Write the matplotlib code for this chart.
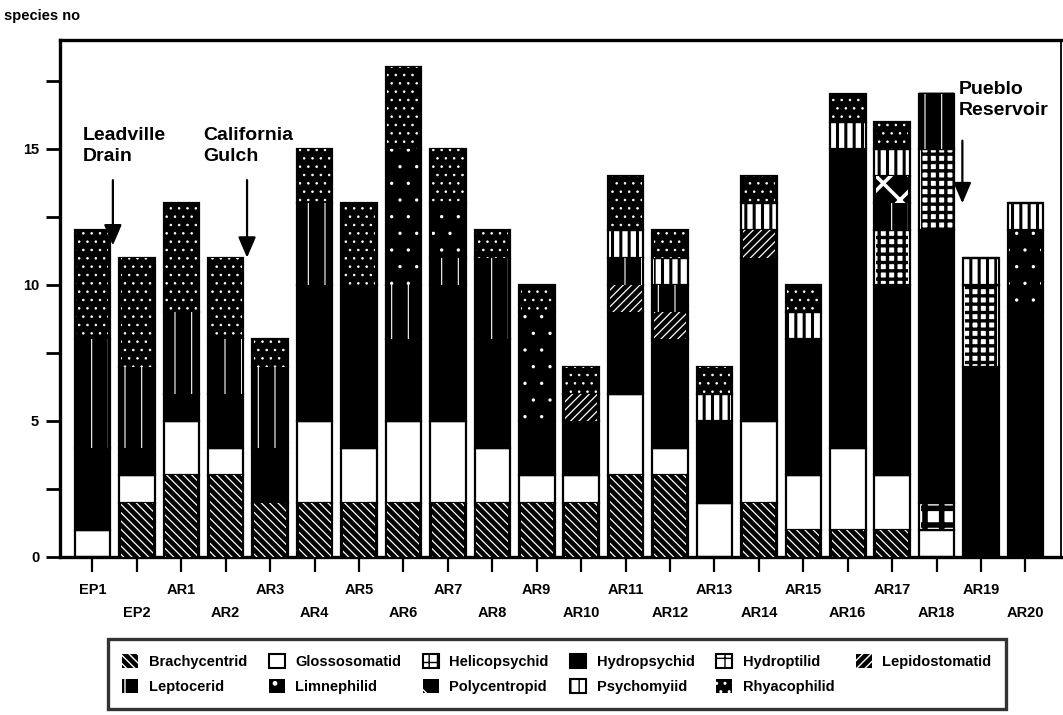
import matplotlib
matplotlib.use("Agg")
import matplotlib.pyplot as plt
from matplotlib.patches import Patch

plt.rcParams["font.family"] = ["Liberation Sans", "DejaVu Sans"]
plt.rcParams["font.weight"] = "bold"

# sampling sites, upstream to downstream
sites = ["EP1", "EP2", "AR1", "AR2", "AR3", "AR4", "AR5", "AR6", "AR7", "AR8", "AR9",
         "AR10", "AR11", "AR12", "AR13", "AR14", "AR15", "AR16", "AR17", "AR18", "AR19", "AR20"]

# number of caddisfly species per family at each site
brachycentrid  = [0, 2, 3, 3, 2, 2, 2, 2, 2, 2, 2, 2, 3, 3, 0, 2, 1, 1, 1, 0, 0, 0]
glossosomatid  = [1, 1, 2, 1, 0, 3, 2, 3, 3, 2, 1, 1, 3, 1, 2, 3, 2, 3, 2, 1, 0, 0]
helicopsychid  = [0, 0, 0, 0, 0, 0, 0, 0, 0, 0, 0, 0, 0, 0, 0, 0, 0, 0, 2, 3, 3, 0]
hydropsychid   = [3, 1, 1, 2, 2, 5, 6, 3, 5, 4, 2, 2, 3, 4, 3, 6, 5, 11, 7, 10, 7, 9]
hydroptilid    = [0, 0, 0, 0, 0, 0, 0, 0, 0, 0, 0, 0, 0, 0, 0, 0, 0, 0, 0, 1, 0, 0]
lepidostomatid = [0, 0, 0, 0, 0, 0, 0, 0, 0, 0, 0, 1, 1, 1, 0, 1, 0, 0, 0, 0, 0, 0]
leptocerid     = [4, 3, 3, 2, 3, 3, 0, 2, 1, 3, 0, 0, 1, 1, 0, 0, 0, 0, 1, 2, 0, 0]
limnephilid    = [0, 0, 0, 0, 0, 0, 0, 5, 2, 0, 4, 0, 0, 0, 0, 0, 0, 0, 0, 0, 0, 3]
polycentropid  = [0, 0, 0, 0, 0, 0, 0, 0, 0, 0, 0, 0, 0, 0, 0, 0, 0, 0, 1, 0, 0, 0]
psychomyiid    = [0, 0, 0, 0, 0, 0, 0, 0, 0, 0, 0, 0, 1, 1, 1, 1, 1, 1, 1, 0, 1, 1]
rhyacophilid   = [4, 4, 4, 3, 1, 2, 3, 3, 2, 1, 1, 1, 2, 1, 1, 1, 1, 1, 1, 0, 0, 0]

family_names = ["Brachycentrid", "Glossosomatid", "Helicopsychid", "Hydropsychid",
                "Hydroptilid", "Lepidostomatid", "Leptocerid", "Limnephilid",
                "Polycentropid", "Psychomyiid", "Rhyacophilid"]

counts = {
    "Brachycentrid": brachycentrid, "Glossosomatid": glossosomatid,
    "Helicopsychid": helicopsychid, "Hydropsychid": hydropsychid,
    "Hydroptilid": hydroptilid, "Lepidostomatid": lepidostomatid,
    "Leptocerid": leptocerid, "Limnephilid": limnephilid,
    "Polycentropid": polycentropid, "Psychomyiid": psychomyiid,
    "Rhyacophilid": rhyacophilid,
}

# bottom-to-top stacking order
stack_order = ["Brachycentrid", "Glossosomatid", "Hydroptilid", "Hydropsychid",
               "Lepidostomatid", "Helicopsychid", "Leptocerid", "Limnephilid",
               "Polycentropid", "Psychomyiid", "Rhyacophilid"]

# fill, hatch, hatch colour, hatch line width
styles = {
    "Brachycentrid":  ("black", "\\\\\\\\", "white", 0.9),
    "Glossosomatid":  ("white", None, None, None),
    "Helicopsychid":  ("white", "++", "black", 2.4),
    "Hydropsychid":   ("black", None, None, None),
    "Hydroptilid":    ("white", "+", "black", 4.0),
    "Lepidostomatid": ("black", "////", "white", 0.9),
    "Leptocerid":     ("black", "|", "white", 0.8),
    "Limnephilid":    ("black", ".", "white", 0.0),
    "Polycentropid":  ("black", "x", "white", 2.6),
    "Psychomyiid":    ("white", "||", "black", 2.2),
    "Rhyacophilid":   ("black", "..", "white", 0.6),
}


def set_hatch_lw(patches, lw):
    for p in patches:
        if hasattr(p, "set_hatch_linewidth"):
            p.set_hatch_linewidth(lw)


fig = plt.figure(figsize=(10.63, 7.15), dpi=100)
ax = fig.add_axes([60 / 1063, 1 - 557 / 715, 1001 / 1063, 517 / 715])

x = list(range(len(sites)))
width = 0.8
bottom = [0] * len(sites)
for fam in stack_order:
    vals = counts[fam]
    face, hatch, hcol, hlw = styles[fam]
    ax.bar(x, vals, width, bottom=bottom, color=face, edgecolor="black",
           linewidth=1.6, zorder=2)
    if hatch:
        with plt.rc_context({"hatch.linewidth": hlw}):
            bars = ax.bar(x, vals, width * 0.9, bottom=bottom, facecolor="none",
                          edgecolor=hcol, hatch=hatch, linewidth=0, zorder=3)
        set_hatch_lw(bars, hlw)
    bottom = [b + v for b, v in zip(bottom, vals)]

ax.set_xlim(-0.73, 21.8)
ax.set_ylim(0, 19)

for s in ["left", "top", "bottom"]:
    ax.spines[s].set_linewidth(2.4)
ax.spines["right"].set_linewidth(1.3)

ax.set_yticks([0, 5, 10, 15])
ax.set_yticks([2.5, 7.5, 12.5, 17.5], minor=True)
ax.tick_params(axis="y", which="both", direction="out", length=10, width=2, pad=5,
               labelsize=10.5)
ax.set_xticks(x)
ax.set_xticklabels([s if i % 2 == 0 else "\n" + s for i, s in enumerate(sites)],
                   fontsize=10.5, linespacing=1.75)
ax.tick_params(axis="x", direction="out", length=11, width=1.6, pad=8)

fig.text(0.004, 1 - 16 / 715, "species no", fontsize=10.5, fontweight="bold",
         va="center", ha="left")

# site annotations
notes = [
    ("Leadville\nDrain", -0.21, 15.8, 0.46, 13.85, 11.45),
    ("California\nGulch", 2.49, 15.8, 3.48, 13.85, 11.0),
    ("Pueblo\nReservoir", 19.49, 17.5, 19.58, 15.3, 13.0),
]
for label, tx, ty, ax_x, tail, head in notes:
    ax.text(tx, ty, label, fontsize=14, fontweight="bold", ha="left", va="top",
            linespacing=1.3, zorder=5)
    ax.annotate("", xy=(ax_x, head), xytext=(ax_x, tail),
                arrowprops=dict(arrowstyle="-|>,head_width=0.3,head_length=0.7",
                                color="black", lw=1.6, mutation_scale=18,
                                shrinkA=0, shrinkB=0), zorder=5)

# legend, filled row by row
handles = {}
for fam in family_names:
    face, hatch, hcol, hlw = styles[fam]
    if hatch:
        with plt.rc_context({"hatch.linewidth": hlw}):
            if face == "black":
                h = Patch(facecolor="black", edgecolor=hcol, hatch=hatch, linewidth=0)
            else:
                h = Patch(facecolor=face, edgecolor="black", hatch=hatch, linewidth=1.5)
        set_hatch_lw([h], hlw)
    else:
        h = Patch(facecolor=face, edgecolor="black", linewidth=1.5)
    handles[fam] = h

row1 = family_names[:6]
row2 = family_names[6:]
order = []
for i in range(6):
    order.append(row1[i])
    if i < len(row2):
        order.append(row2[i])

leg = fig.legend([handles[f] for f in order], order, ncol=6, loc="upper center",
                 bbox_to_anchor=(557 / 1063, 1 - 639 / 715), fontsize=10.5,
                 handlelength=1.1, handleheight=1.1, handletextpad=0.7,
                 columnspacing=1.5, frameon=True, fancybox=False,
                 borderpad=1.0, labelspacing=0.75, borderaxespad=0)
leg.get_frame().set_edgecolor("black")
leg.get_frame().set_linewidth(2.4)

fig.savefig("out.png", dpi=100)
